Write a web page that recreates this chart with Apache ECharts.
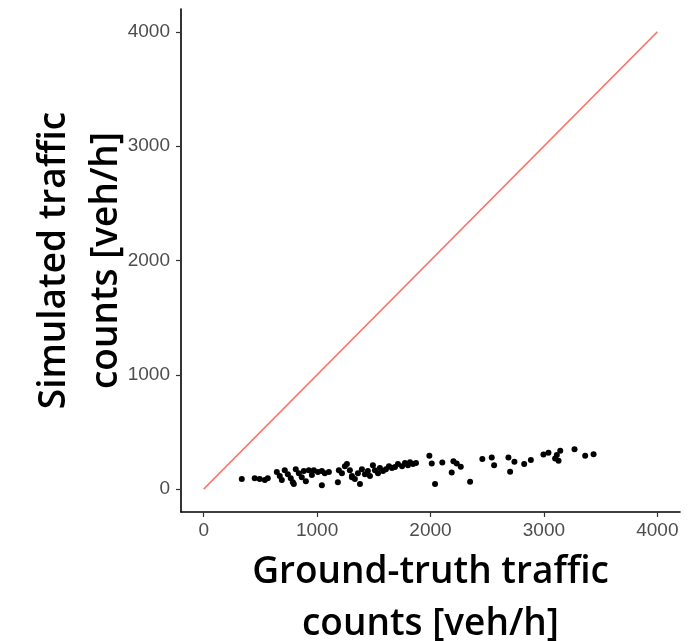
<!DOCTYPE html>
<html><head><meta charset="utf-8">
<script src="https://cdn.jsdelivr.net/npm/echarts@6/dist/echarts.min.js"></script>
<style>html,body{margin:0;padding:0;background:#fff}#c{width:700px;height:641px}</style>
</head><body><div id="c"></div>
<script>
const groundTruth = [336,450,494,539,565,645,671,689,715,742,768,786,795,812,839,865,883,901,927,954,971,1007,1042,1068,1104,1042,1183,1192,1219,1245,1263,1289,1307,1307,1333,1360,1378,1395,1422,1448,1466,1492,1510,1537,1554,1581,1607,1634,1660,1687,1713,1749,1775,1801,1819,1846,1872,1990,2011,2040,2104,2187,2202,2231,2267,2349,2457,2540,2561,2687,2702,2740,2826,2885,2996,3040,3099,3114,3144,3129,3270,3364,3438];
const simulated   = [88,96,88,79,96,149,114,79,166,131,96,61,44,175,140,105,158,70,166,123,166,149,158,140,149,35,61,166,140,201,219,166,114,105,88,140,44,175,131,158,114,210,166,140,184,158,175,201,184,193,219,201,228,210,236,219,228,292,225,44,234,146,245,225,195,64,263,277,210,277,151,239,219,254,304,318,269,298,335,248,350,292,306];
const lineX = [0,4000];
const lineY = [0,4000];
const tickValues = [0,1000,2000,3000,4000];

const chart = echarts.init(document.getElementById('c'));
const labelFont = {color:'#4D4D4D', fontSize:19, fontFamily:'Liberation Sans, Arial, sans-serif'};
const nameFont = {color:'#000', fontSize:37, fontFamily:'Open Sans, Noto Sans, sans-serif', fontWeight:600, lineHeight:52, align:'center', verticalAlign:'middle'};
const fmt = v => String(v);
chart.setOption({
  animation:false,
  backgroundColor:'#fff',
  grid:{left:181, right:20, top:9, bottom:129, containLabel:false, outerBoundsMode:'none'},
  xAxis:{type:'value', min:-200, max:4200, interval:200,
    name:'Ground-truth traffic\ncounts [veh/h]', nameLocation:'middle', nameGap:86, nameMoveOverlap:false, nameTextStyle:nameFont,
    axisLine:{onZero:false, lineStyle:{color:'#000', width:1.6}},
    axisTick:{show:true, length:5, lineStyle:{color:'#333', width:1.2}, customValues:tickValues},
    axisLabel:Object.assign({margin:9, customValues:tickValues, formatter:fmt}, labelFont),
    splitLine:{show:false}},
  yAxis:{type:'value', min:-200, max:4200, interval:200,
    name:'Simulated traffic\ncounts [veh/h]', nameLocation:'middle', nameGap:101, nameMoveOverlap:false, nameTextStyle:nameFont,
    axisLine:{show:true, onZero:false, lineStyle:{color:'#000', width:1.6}},
    axisTick:{show:true, length:5, lineStyle:{color:'#333', width:1.2}, customValues:tickValues},
    axisLabel:Object.assign({margin:11, customValues:tickValues, formatter:fmt}, labelFont),
    splitLine:{show:false}},
  series:[
    {type:'line', data:lineX.map((x,i)=>[x,lineY[i]]), symbol:'none', lineStyle:{color:'#F8766D', width:1.5}, z:1},
    {type:'scatter', data:groundTruth.map((x,i)=>[x,simulated[i]]), symbolSize:6, itemStyle:{color:'#000', opacity:1}, z:2}
  ]
});
</script></body></html>
